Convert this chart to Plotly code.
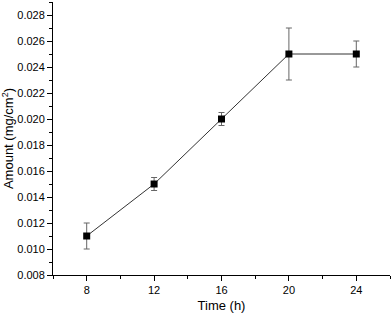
import plotly.graph_objects as go

time_h = [8, 12, 16, 20, 24]
amount = [0.011, 0.015, 0.020, 0.025, 0.025]
err = [0.001, 0.0005, 0.0005, 0.002, 0.001]

fig = go.Figure()
fig.add_trace(go.Scatter(
    x=time_h, y=amount, mode="lines+markers",
    line=dict(color="#333333", width=1),
    marker=dict(symbol="square", size=7, color="black"),
    error_y=dict(type="data", array=err, visible=True, color="#666666", thickness=1, width=3),
))

axis_common = dict(
    showline=True, linecolor="black", linewidth=1,
    ticks="outside", ticklen=5, tickcolor="black", tickwidth=1,
    showgrid=False, zeroline=False, automargin=False,
    tickfont=dict(family="Liberation Sans, Arial", size=11, color="black"),
)

fig.update_xaxes(
    range=[6, 26], tickvals=[8, 12, 16, 20, 24],
    minor=dict(dtick=2, tick0=0, ticks="outside", ticklen=3, tickcolor="black", showgrid=False),
    title=dict(text="Time (h)", font=dict(family="Liberation Sans, Arial", size=13, color="black"), standoff=6),
    **axis_common,
)
fig.update_yaxes(
    range=[0.008, 0.029], tickvals=[0.008 + 0.002 * i for i in range(11)],
    tickformat=".3f",
    minor=dict(dtick=0.001, tick0=0, ticks="outside", ticklen=3, tickcolor="black", showgrid=False),
    title=dict(text="Amount (mg/cm<sup>2</sup>)", font=dict(family="Liberation Sans, Arial", size=13, color="black"), standoff=2),
    **axis_common,
)

fig.update_layout(
    width=392, height=313,
    margin=dict(l=53, r=2, t=2, b=38),
    plot_bgcolor="white", paper_bgcolor="white",
    showlegend=False,
)

fig.write_html("out.html", config={"displayModeBar": False},
               post_script="document.body.style.margin='0';document.body.style.overflow='hidden';")
